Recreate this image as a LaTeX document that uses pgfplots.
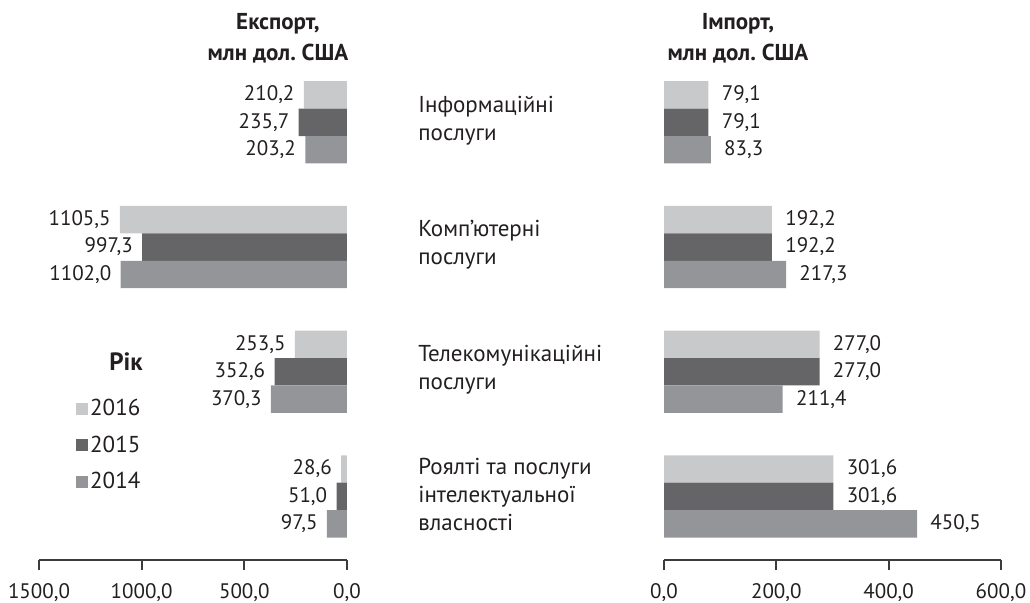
\documentclass[border=0pt]{standalone}
\usepackage{fontspec}
\setmainfont{PT Sans}
\usepackage{pgfplots}
\pgfplotsset{compat=1.18}
\frenchspacing

\definecolor{c16}{HTML}{C8C9CB}
\definecolor{c15}{HTML}{656567}
\definecolor{c14}{HTML}{939598}
\definecolor{ink}{HTML}{231F20}
\definecolor{axisgray}{HTML}{3C3C3E}

\pgfplotsset{
  base/.style={
    scale only axis, height=250pt,
    xbar, bar shift=0pt, bar width=0.22,
    y dir=reverse, ymin=-0.5, ymax=3.51,
    axis x line=bottom,
    x axis line style={-, axisgray, line width=0.9pt},
    xtick style={axisgray, line width=0.9pt},
    tick align=outside, major tick length=5pt,
    tick label style={font=\fontsize{10.5}{12}\selectfont, text=ink},
    xticklabel style={yshift=-3pt},
    /pgf/number format/fixed,
    /pgf/number format/fixed zerofill,
    /pgf/number format/precision=1,
    /pgf/number format/use comma,
    /pgf/number format/1000 sep={},
    /pgf/number format/assume math mode=true,
    point meta=x, nodes near coords,
    every node near coord/.append style={font=\fontsize{10.5}{12}\selectfont, text=ink, inner sep=0pt},
    clip=false,
  },
}

\begin{document}
\begin{tikzpicture}
\useasboundingbox (0,0) rectangle (515pt,301pt);

% export
\begin{axis}[base, at={(19.5pt,21pt)}, anchor=south west, width=154pt,
  x dir=reverse, xmin=0, xmax=1500, xtick={0,500,1000,1500},
  axis y line=right, y axis line style={draw=none}, ytick style={draw=none},
  ytick={0,1,2,3},
  yticklabels={{Інформаційні\\послуги},{Комп’ютерні\\послуги},{Телекомунікаційні\\послуги},{Роялті та послуги\\інтелектуальної\\власності}},
  yticklabel style={anchor=west, align=left, inner sep=0pt, xshift=33pt, yshift=1pt,
    font=\fontsize{11.5}{14}\selectfont},
  nodes near coords align={anchor=east},
  every node near coord/.append style={xshift=-4.5pt},
  legend style={at={(0.10,0.334)}, anchor=north west, draw=none, fill=none,
    row sep=6.5pt, font=\fontsize{11.5}{12}\selectfont, text=ink,
    nodes={inner sep=1pt}},
  legend cell align=left,
  legend image code/.code={\fill[#1] (0pt,-3pt) rectangle (6pt,3pt);},
]
\addplot[fill=c16, draw=none] coordinates {(210.2,-0.22) (1105.5,0.78) (253.5,1.78) (28.6,2.78)};
\addlegendentry{2016}
\addplot[fill=c15, draw=none] coordinates {(235.7,0) (997.3,1) (352.6,2) (51.0,3)};
\addlegendentry{2015}
\addplot[fill=c14, draw=none] coordinates {(203.2,0.22) (1102.0,1.22) (370.3,2.22) (97.5,3.22)};
\addlegendentry{2014}
\end{axis}

% import
\begin{axis}[base, at={(332pt,21pt)}, anchor=south west, width=168.5pt,
  xmin=0, xmax=600, xtick={0,200,400,600},
  axis y line=none, ytick=\empty,
  nodes near coords align={anchor=west},
  every node near coord/.append style={xshift=6.5pt},
]
\addplot[fill=c16, draw=none] coordinates {(79.1,-0.22) (192.2,0.78) (277.0,1.78) (301.6,2.78)};
\addplot[fill=c15, draw=none] coordinates {(79.1,0) (192.2,1) (277.0,2) (301.6,3)};
\addplot[fill=c14, draw=none] coordinates {(83.3,0.22) (217.3,1.22) (211.4,2.22) (450.5,3.22)};
\end{axis}

\node[align=center, text=ink, font=\bfseries\fontsize{11.5}{15.5}\selectfont] at (139pt,282pt) {Експорт,\\млн дол. США};
\node[align=center, text=ink, font=\bfseries\fontsize{11.5}{15.5}\selectfont] at (369pt,282pt) {Імпорт,\\млн дол. США};
\node[text=ink, font=\bfseries\fontsize{12.5}{13}\selectfont] at (63pt,120pt) {Рік};
\end{tikzpicture}
\end{document}
